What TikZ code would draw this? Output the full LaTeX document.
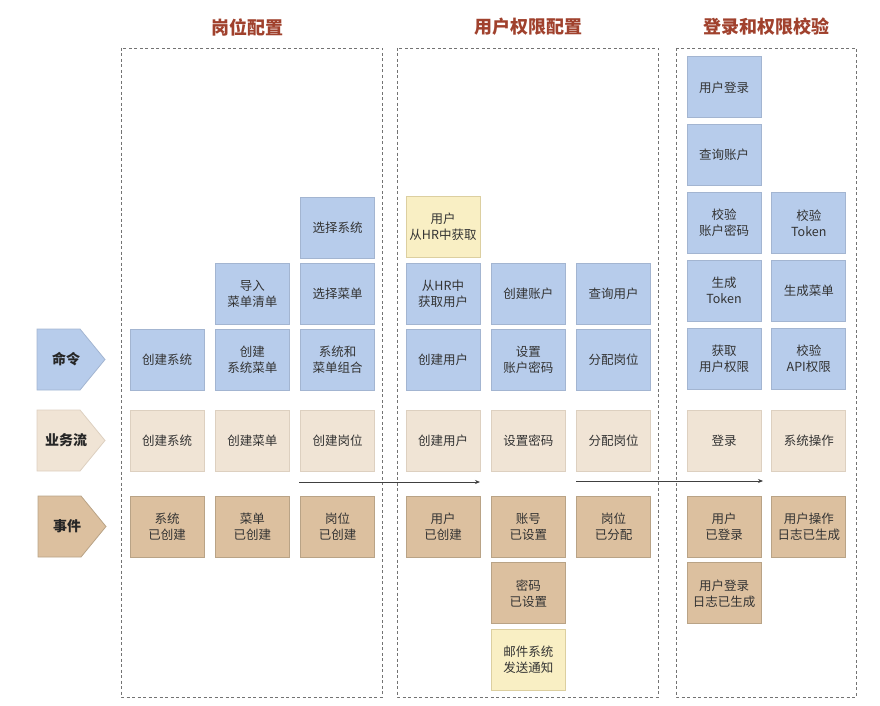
\documentclass[tikz,border=0pt]{standalone}
\usepackage{fontspec}
\setmainfont{Noto Sans CJK SC}
\usepackage{xcolor}
\usepackage{tikz}
\usetikzlibrary{positioning,arrows.meta}

\definecolor{cmdblue}{HTML}{B7CCEB}
\definecolor{cmdline}{HTML}{A3B5D1}
\definecolor{flowbeige}{HTML}{F0E4D5}
\definecolor{flowline}{HTML}{DDD0C0}
\definecolor{eventtan}{HTML}{DCC09F}
\definecolor{eventline}{HTML}{B9A386}
\definecolor{noteyellow}{HTML}{F9EFC4}
\definecolor{noteline}{HTML}{DCCFA0}
\definecolor{titlered}{HTML}{A0412D}
\definecolor{textgray}{HTML}{333333}

\begin{document}
\begin{tikzpicture}[x=1pt, y=-1pt,
    box/.style={draw, line width=0.8pt, minimum width=74pt, minimum height=61pt,
      inner sep=1pt, align=center, text=textgray, font=\fontsize{12.5}{16}\selectfont},
    cmd/.style={box, fill=cmdblue, draw=cmdline},
    flow/.style={box, fill=flowbeige, draw=flowline},
    event/.style={box, fill=eventtan, draw=eventline},
    note/.style={box, fill=noteyellow, draw=noteline},
    lane/.style={line width=0.8pt},
    lanetext/.style={inner sep=0pt, font=\fontsize{14}{16}\selectfont\bfseries, text=black!85},
    title/.style={font=\fontsize{18}{20}\selectfont\bfseries, text=titlered},
    frame/.style={draw=black!55, line width=0.7pt, dash pattern=on 3pt off 2.5pt},
    flowarrow/.style={draw=black!75, line width=0.7pt, -{Stealth[length=5pt, width=4pt]}}]
  \useasboundingbox (0,0) rectangle (880,706);

  % Titulos y marcos
  \node[title] (t1) at (247,27) {岗位配置};
  \node[title] (t2) at (528,27) {用户权限配置};
  \node[title] (t3) at (766,27) {登录和权限校验};
  \draw[frame] (121,48) rectangle (382,697);
  \draw[frame] (397,48) rectangle (658,697);
  \draw[frame] (676,48) rectangle (856,697);

  % Carriles
  \draw[lane, fill=cmdblue, draw=cmdline]
    (37,329) -- (80,329) -- (105,359.5) -- (80,390) -- (37,390) -- cycle;
  \draw[lane, fill=flowbeige, draw=flowline]
    (37,410) -- (80,410) -- (105,440.5) -- (80,471) -- (37,471) -- cycle;
  \draw[lane, fill=eventtan, draw=eventline]
    (38,496) -- (81,496) -- (106,526.5) -- (81,557) -- (38,557) -- cycle;
  \node[lanetext] (lcmd) at (66,359.5) {命令};
  \node[lanetext] (lflow) at (66,440.5) {业务流};
  \node[lanetext] (levent) at (67,526.5) {事件};

  % 岗位配置
  \node[cmd] (c1) at (167,359.5) {创建系统};
  \node[cmd, right=10.5pt of c1] (c2) {创建\\系统菜单};
  \node[cmd, right=10.5pt of c2] (c3) {系统和\\菜单组合};
  \node[cmd, above=4pt of c2] (c2b) {导入\\菜单清单};
  \node[cmd, above=4pt of c3] (c3b) {选择菜单};
  \node[cmd, above=4pt of c3b] (c3c) {选择系统};
  \node[flow] (f1) at (167,440.5) {创建系统};
  \node[flow, right=10.5pt of f1] (f2) {创建菜单};
  \node[flow, right=10.5pt of f2] (f3) {创建岗位};
  \node[event] (e1) at (167,526.5) {系统\\已创建};
  \node[event, right=10.5pt of e1] (e2) {菜单\\已创建};
  \node[event, right=10.5pt of e2] (e3) {岗位\\已创建};

  % 用户权限配置
  \node[cmd] (c4) at (443,359.5) {创建用户};
  \node[cmd, right=10.5pt of c4] (c5) {设置\\账户密码};
  \node[cmd, right=10.5pt of c5] (c6) {分配岗位};
  \node[cmd, above=4pt of c4] (c4b) {从HR中\\获取用户};
  \node[cmd, above=4pt of c5] (c5b) {创建账户};
  \node[cmd, above=4pt of c6] (c6b) {查询用户};
  \node[note, above=5pt of c4b] (n1) {用户\\从HR中获取};
  \node[flow] (f4) at (443,440.5) {创建用户};
  \node[flow, right=10.5pt of f4] (f5) {设置密码};
  \node[flow, right=10.5pt of f5] (f6) {分配岗位};
  \node[event] (e4) at (443,526.5) {用户\\已创建};
  \node[event, right=10.5pt of e4] (e5) {账号\\已设置};
  \node[event, right=10.5pt of e5] (e6) {岗位\\已分配};
  \node[event, below=5pt of e5] (e5b) {密码\\已设置};
  \node[note, below=5pt of e5b] (n2) {邮件系统\\发送通知};

  % 登录和权限校验
  \node[cmd] (c7) at (724,358.5) {获取\\用户权限};
  \node[cmd, right=10pt of c7] (c8) {校验\\API权限};
  \node[cmd, above=6pt of c7] (c7b) {生成\\Token};
  \node[cmd, above=6pt of c8] (c8b) {生成菜单};
  \node[cmd, above=6pt of c7b] (c7c) {校验\\账户密码};
  \node[cmd, above=6pt of c8b] (c8c) {校验\\Token};
  \node[cmd, above=6pt of c7c] (c7d) {查询账户};
  \node[cmd, above=6pt of c7d] (c7e) {用户登录};
  \node[flow] (f7) at (724,440.5) {登录};
  \node[flow, right=10pt of f7] (f8) {系统操作};
  \node[event] (e7) at (724,526.5) {用户\\已登录};
  \node[event, right=10pt of e7] (e8) {用户操作\\日志已生成};
  \node[event, below=5pt of e7] (e7b) {用户登录\\日志已生成};

  % Flechas entre etapas
  \coordinate (a1s) at (299,482);
  \coordinate (a1e) at (480,482);
  \coordinate (a2s) at (576,481);
  \coordinate (a2e) at (763,481);
  \draw[flowarrow] (a1s) -- (a1e);
  \draw[flowarrow] (a2s) -- (a2e);
\end{tikzpicture}
\end{document}
